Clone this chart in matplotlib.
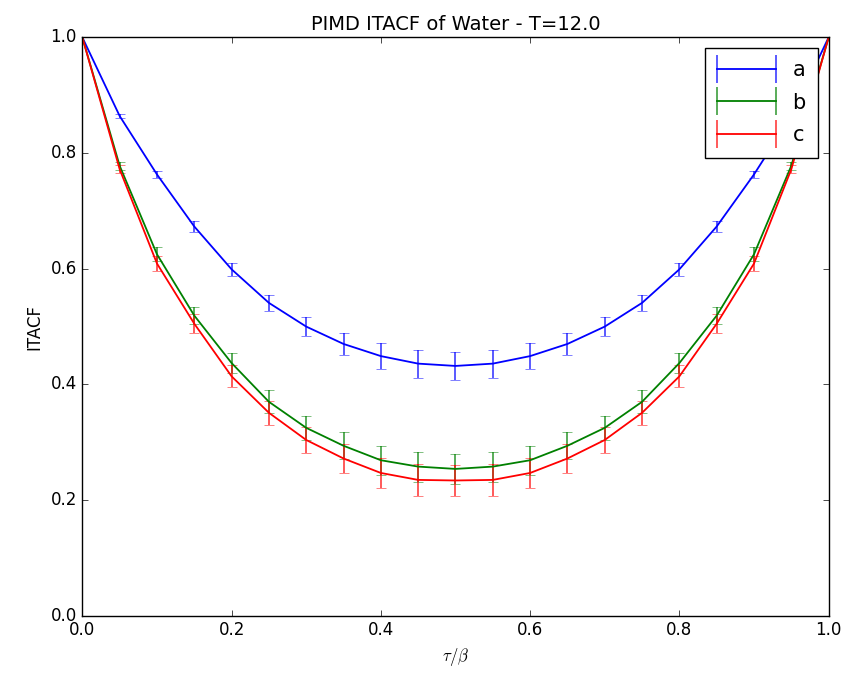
import matplotlib
matplotlib.use("Agg")
import matplotlib.pyplot as plt
from matplotlib.legend_handler import HandlerBase
from matplotlib.lines import Line2D

tau = [0.0, 0.05, 0.1, 0.15, 0.2, 0.25, 0.3, 0.35, 0.4, 0.45, 0.5,
       0.55, 0.6, 0.65, 0.7, 0.75, 0.8, 0.85, 0.9, 0.95, 1.0]

itacf_a = [1.0, 0.864, 0.763, 0.673, 0.599, 0.541, 0.500, 0.470, 0.449, 0.436, 0.432,
           0.436, 0.449, 0.470, 0.500, 0.541, 0.599, 0.673, 0.763, 0.864, 1.0]
err_a = [0.0, 0.004, 0.006, 0.009, 0.011, 0.014, 0.017, 0.019, 0.022, 0.024, 0.024,
         0.024, 0.022, 0.019, 0.017, 0.014, 0.011, 0.009, 0.006, 0.004, 0.0]

itacf_b = [1.0, 0.778, 0.625, 0.519, 0.437, 0.370, 0.325, 0.294, 0.269, 0.258, 0.254,
           0.258, 0.269, 0.294, 0.325, 0.370, 0.437, 0.519, 0.625, 0.778, 1.0]
err_b = [0.0, 0.007, 0.012, 0.015, 0.018, 0.020, 0.021, 0.023, 0.025, 0.026, 0.026,
         0.026, 0.025, 0.023, 0.021, 0.020, 0.018, 0.015, 0.012, 0.007, 0.0]

itacf_c = [1.0, 0.772, 0.609, 0.505, 0.414, 0.351, 0.304, 0.272, 0.247, 0.235, 0.234,
           0.235, 0.247, 0.272, 0.304, 0.351, 0.414, 0.505, 0.609, 0.772, 1.0]
err_c = [0.0, 0.007, 0.013, 0.016, 0.019, 0.021, 0.023, 0.025, 0.026, 0.027, 0.027,
         0.027, 0.026, 0.025, 0.023, 0.021, 0.019, 0.016, 0.013, 0.007, 0.0]

labels = ["a", "b", "c"]
colors = ["b", "g", "r"]


class CapHandler(HandlerBase):
    # old-style errorbar legend entry: line with caps at both ends
    def create_artists(self, legend, orig, xd, yd, w, h, fs, trans):
        col = orig[0].get_color()
        y = h / 2.0 - yd
        line = Line2D([-xd, w - xd], [y, y], color=col, lw=1.3)
        caps = Line2D([-xd, w - xd], [y, y], color=col, lw=0, alpha=0.7,
                      marker="|", markersize=1.3 * fs, markeredgewidth=1.3)
        line.set_transform(trans)
        caps.set_transform(trans)
        return [line, caps]


plt.style.use("classic")
plt.rcParams["figure.facecolor"] = "white"
plt.rcParams["savefig.facecolor"] = "white"

fig = plt.figure(figsize=(8.49, 6.79), dpi=100)
ax = fig.add_subplot(111)
fig.subplots_adjust(left=0.097, right=0.976, bottom=0.093, top=0.945)

conts = []
for y, e, lab, col in zip([itacf_a, itacf_b, itacf_c], [err_a, err_b, err_c], labels, colors):
    cont = ax.errorbar(tau, y, yerr=e, color=col, label=lab, capsize=3.6, lw=1.3)
    for b in cont[2]:
        b.set_alpha(0.7)
    for cp in cont[1]:
        cp.set_alpha(0.7)
    conts.append(cont)

ax.set_xlim(0, 1)
ax.set_ylim(0, 1)
ax.set_xticks([0.0, 0.2, 0.4, 0.6, 0.8, 1.0])
ax.set_yticks([0.0, 0.2, 0.4, 0.6, 0.8, 1.0])
ax.set_title("PIMD ITACF of Water - T=12.0", fontsize=14)
ax.set_xlabel(r"$\tau/\beta$", fontsize=12)
ax.set_ylabel("ITACF", fontsize=12)
ax.legend(conts, labels, loc="upper right", handler_map={type(conts[0]): CapHandler()},
          fontsize=15, borderaxespad=0.5, handlelength=2.8, labelspacing=0.6,
          borderpad=0.6)

plt.savefig("out.png", dpi=100)
